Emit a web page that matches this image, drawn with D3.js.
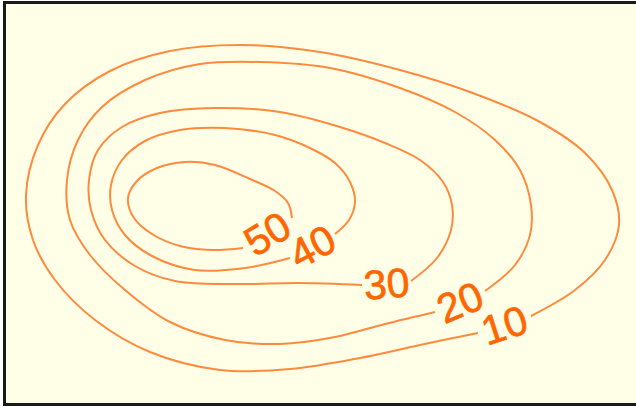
<!DOCTYPE html>
<html>
<head>
<meta charset="utf-8">
<script src="https://cdn.jsdelivr.net/npm/d3@7"></script>
<style>
  html, body { margin: 0; padding: 0; background: #ffffff; overflow: hidden; width: 636px; height: 408px; }
  svg { display: block; }
</style>
</head>
<body>
<svg id="chart" width="636" height="408"></svg>
<script>
// ---- data (chart units) ----
const contourLevels = [10, 20, 30, 40, 50];

const contour10 = [[531,316],[575,290],[605,260],[619,225],[612,190],[585,153],[540,122],[470,92],[400,70],[320,52],[240,45],[170,51],[110,71],[65,104],[38,145],[26,195],[33,240],[55,280],[95,320],[150,352],[220,370],[290,369],[360,358],[420,345],[478,333]];
const contour20 = [[485,291],[515,265],[530,235],[531,205],[520,170],[495,140],[455,112],[400,88],[330,68],[260,62],[200,64],[145,80],[102,107],[78,140],[67,180],[70,220],[90,255],[125,290],[170,322],[225,340],[280,344],[335,337],[385,324],[435,312]];
const contour30 = [[411,281],[437,258],[451,230],[452,205],[443,182],[420,160],[385,143],[340,127],[280,112],[215,108],[160,113],[122,127],[98,150],[89,180],[91,210],[105,240],[135,266],[175,281],[237,284],[300,283],[362,285]];
const contour40 = [[335,234],[349,220],[355,202],[350,182],[335,163],[310,148],[275,135],[225,128],[180,130],[145,141],[122,160],[111,185],[112,210],[125,235],[152,256],[195,270],[245,268],[290,258]];
const contour50 = [[292,218],[288,203],[275,191],[250,179],[215,165],[185,162],[157,168],[137,181],[128,198],[134,218],[152,234],[180,246],[212,250],[243,248]];

const contourPaths = [contour10, contour20, contour30, contour40, contour50];

// ---- drawing ----
const W = 636, H = 408;
const svg = d3.select("#chart");

const x = d3.scaleLinear().domain([0, 636]).range([0, W]);
const y = d3.scaleLinear().domain([0, 408]).range([0, H]);

// background (runs past the right edge)
svg.append("rect")
  .attr("x", 4).attr("y", 2)
  .attr("width", W + 20).attr("height", 403)
  .attr("fill", "#ffffe8");

// frame: left, top, bottom only – the right side is cut off
svg.append("path")
  .attr("d", `M${W + 20},2.5 H4.5 V404.5 H${W + 20}`)
  .attr("fill", "none")
  .attr("stroke", "#1a1a1a")
  .attr("stroke-width", 3);

const line = d3.line()
  .x(d => x(d[0]))
  .y(d => y(d[1]))
  .curve(d3.curveCatmullRom.alpha(0.5));

const g = svg.append("g");

contourLevels.forEach((lvl, i) => {
  const pts = contourPaths[i];
  g.append("path")
    .attr("d", line(pts))
    .attr("fill", "none")
    .attr("stroke", "#ff8a3d")
    .attr("stroke-width", 2);

  const a = pts[pts.length - 1], b = pts[0];
  const cx = x((a[0] + b[0]) / 2), cy = y((a[1] + b[1]) / 2);
  const ang = Math.atan2(y(b[1]) - y(a[1]), x(b[0]) - x(a[0])) * 180 / Math.PI;
  g.append("text")
    .attr("transform", `translate(${cx},${cy + 1}) rotate(${ang})`)
    .attr("text-anchor", "middle")
    .attr("dominant-baseline", "central")
    .attr("font-family", "Liberation Sans, Arial, sans-serif")
    .attr("font-size", 41)
    .attr("fill", "#ff6600")
    .attr("stroke", "#ff6600")
    .attr("stroke-width", 0.7)
    .text(lvl);
});
</script>
</body>
</html>
